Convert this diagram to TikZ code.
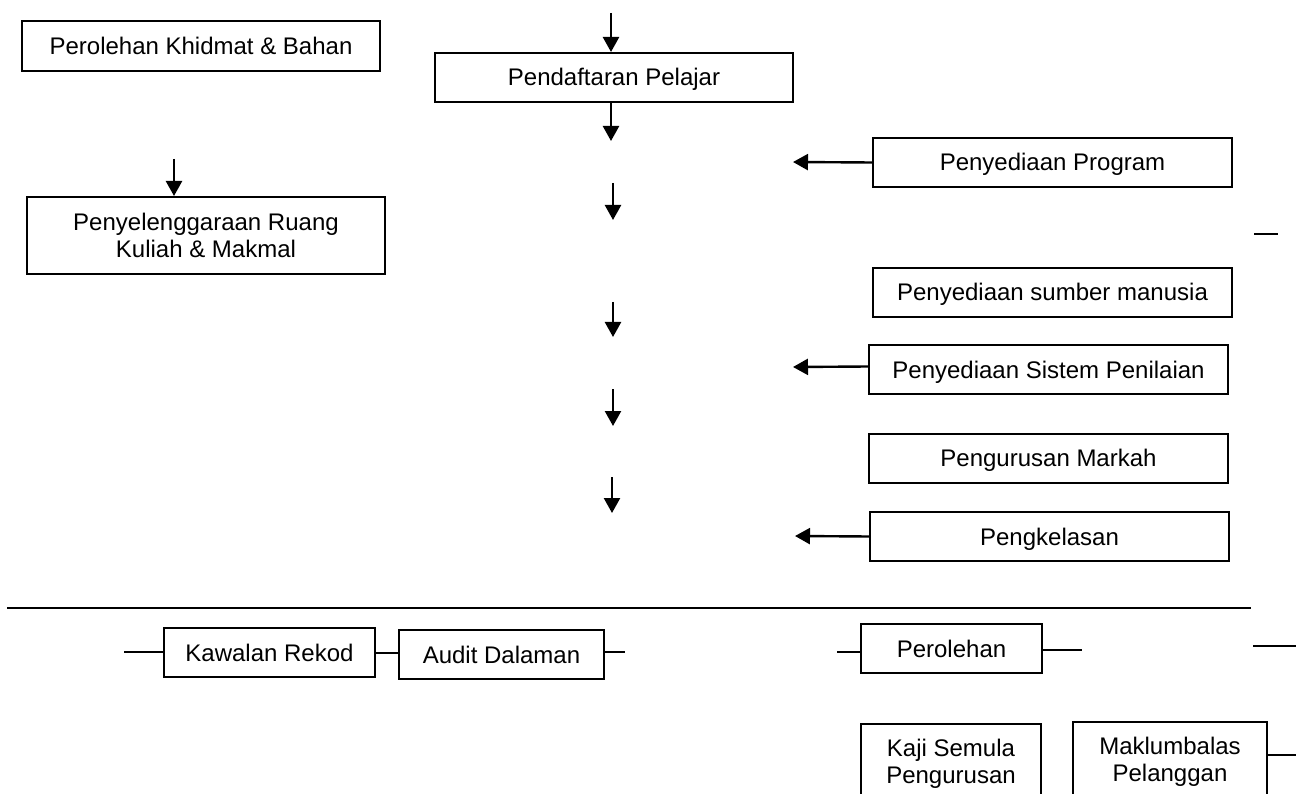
\documentclass[tikz,border=0pt]{standalone}
\usepackage{fontspec}
\setmainfont{Liberation Sans}
\usetikzlibrary{arrows.meta}
\begin{document}
\begin{tikzpicture}[x=1pt,y=-1pt,
  box/.style={draw, line width=2pt, inner sep=0pt, font=\fontsize{24}{27}\selectfont, text height=20pt, text depth=3pt},
  boxtwo/.style={draw, line width=2pt, inner sep=0pt, align=center, font=\fontsize{24}{27}\selectfont},
  arr/.style={line width=2.4pt, -{Triangle[width=16pt,length=15pt]}},
  stub/.style={line width=2pt}]
\useasboundingbox (0,0) rectangle (1296,794);
\clip (0,0) rectangle (1296,794);
% boxes
\node[box, minimum width=358pt, minimum height=50pt] (pkb) at (201,46) {Perolehan Khidmat \& Bahan};
\node[box, minimum width=358pt, minimum height=49pt] (pp) at (614,77.5) {Pendaftaran Pelajar};
\node[boxtwo, minimum width=358pt, minimum height=77pt] (prk) at (206,235.5) {Penyelenggaraan Ruang\\Kuliah \& Makmal};
\node[box, minimum width=359pt, minimum height=49pt] (prog) at (1052.5,162.5) {Penyediaan Program};
\node[box, minimum width=359pt, minimum height=49pt] (psm) at (1052.5,292.5) {Penyediaan sumber manusia};
\node[box, minimum width=359pt, minimum height=49pt] (psp) at (1048.5,369.5) {Penyediaan Sistem Penilaian};
\node[box, minimum width=359pt, minimum height=49pt] (pm) at (1048.5,458) {Pengurusan Markah};
\node[box, minimum width=359pt, minimum height=49pt] (pk) at (1049.5,536.5) {Pengkelasan};
\node[box, minimum width=211pt, minimum height=49pt] (kr) at (269.5,652.5) {Kawalan Rekod};
\node[box, minimum width=205pt, minimum height=49pt] (ad) at (501.5,654.5) {Audit Dalaman};
\node[box, minimum width=181pt, minimum height=49pt] (per) at (951.5,648.5) {Perolehan};
\node[boxtwo, minimum width=180pt, minimum height=80pt] (ksp) at (951,764) {Kaji Semula\\Pengurusan};
\node[boxtwo, minimum width=194pt, minimum height=80pt] (mp) at (1170,762) {Maklumbalas\\Pelanggan};
% free coordinates
\coordinate (topin) at (611,13);
\coordinate (a1s) at (613,183); \coordinate (a1e) at (613,220);
\coordinate (a2s) at (613,302); \coordinate (a2e) at (613,337);
\coordinate (a3s) at (613,389); \coordinate (a3e) at (613,426);
\coordinate (a4s) at (612,477); \coordinate (a4e) at (612,513);
\coordinate (prkin) at (174,159);
\coordinate (progend) at (793,162);
\coordinate (pspend) at (793,367);
\coordinate (pkend) at (795,536);
\coordinate (dashs) at (1254,234); \coordinate (dashe) at (1278,234);
\coordinate (hls) at (7,608); \coordinate (hle) at (1251,608);
\coordinate (krl) at (124,652);
\coordinate (adr) at (625,652);
\coordinate (perl) at (837,652);
\coordinate (perr) at (1082,650);
\coordinate (frs) at (1253,646); \coordinate (fre) at (1296,646);
\coordinate (mpr) at (1296,755);
% arrows
\draw[arr] (topin) -- (topin |- pp.north);
\draw[arr] (pp.south -| 611,0) -- ++(0,38);
\draw[arr] (a1s) -- (a1e);
\draw[arr] (a2s) -- (a2e);
\draw[arr] (a3s) -- (a3e);
\draw[arr] (a4s) -- (a4e);
\draw[arr] (prkin) -- (prkin |- prk.north);
\draw[arr] (prog.west) -- (progend);
\draw[arr] ([yshift=3pt]psp.west) -- (pspend);
\draw[arr] (pk.west) -- (pkend);
% lines
\draw[stub] (dashs) -- (dashe);
\draw[stub] (hls) -- (hle);
\draw[stub] (krl) -- (krl -| kr.west);
\draw[stub] (kr.east) -- (kr.east -| ad.west);
\draw[stub] (ad.east |- adr) -- (adr);
\draw[stub] (perl) -- (perl -| per.west);
\draw[stub] (per.east |- perr) -- (perr);
\draw[stub] (frs) -- (fre);
\draw[stub] (mp.east |- mpr) -- (mpr);
\end{tikzpicture}
\end{document}
